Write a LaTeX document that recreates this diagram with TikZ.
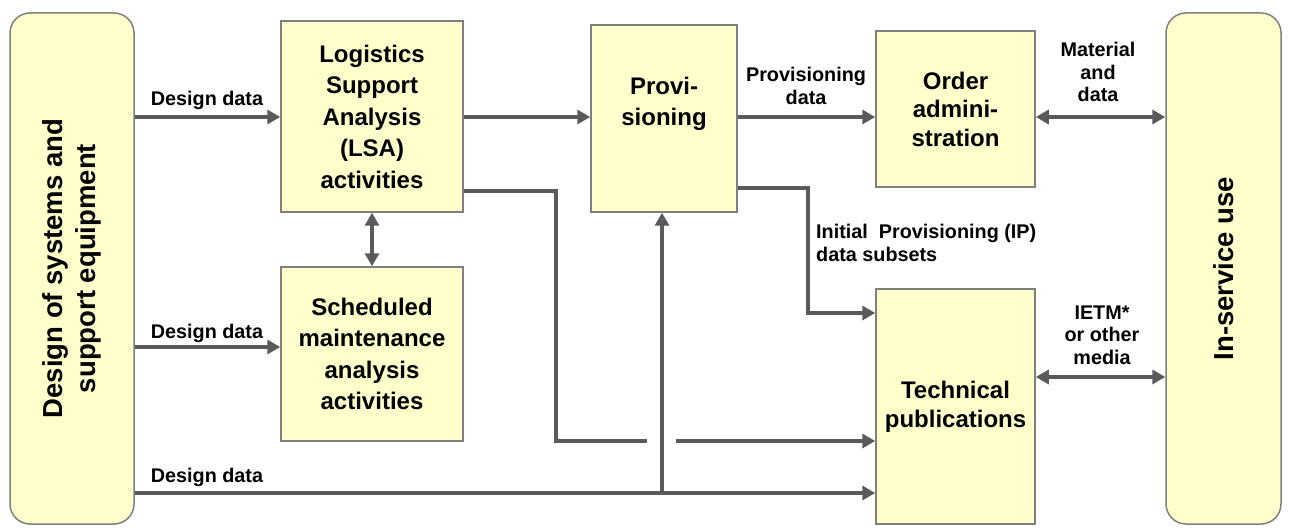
\documentclass[tikz,border=0pt]{standalone}
\usepackage{fontspec}
\setmainfont{Liberation Sans}
\usetikzlibrary{arrows.meta}
\definecolor{boxfill}{HTML}{FFFFCC}
\definecolor{boxline}{HTML}{808080}
\definecolor{flow}{HTML}{5A5A5A}
\begin{document}
\begin{tikzpicture}[x=1pt,y=-1pt,
  box/.style={draw=boxline, line width=1.5pt, fill=boxfill, inner sep=0pt,
    align=center, font=\bfseries\fontsize{24}{31.5}\selectfont},
  side/.style={box, rounded corners=20pt, rotate=90,
    font=\bfseries\fontsize{27.5}{33}\selectfont},
  txt/.style={inner sep=0pt, align=center},
  lbl/.style={inner sep=0pt, align=center, font=\bfseries\fontsize{19.8}{22.5}\selectfont},
  tip/.tip={Triangle[length=13pt,width=14pt]},
  line/.style={draw=flow, line width=4pt},
  arr/.style={line, -tip},
  biarr/.style={line, tip-tip},
]
\useasboundingbox (0,0) rectangle (1289,529);

% outer blocks
\node[side, minimum width=511pt, minimum height=124pt] (design) at (72,268.5)
  {Design of systems and\\support equipment};
\node[side, minimum width=511pt, minimum height=115pt] (inservice) at (1223.5,268.5)
  {In-service use};

% process blocks
\node[box, minimum width=182pt, minimum height=191pt] (lsa) at (372,116.5)
  {Logistics\\Support\\Analysis\\(LSA)\\activities};
\node[box, minimum width=182pt, minimum height=174pt] (sched) at (372,354)
  {Scheduled\\maintenance\\analysis\\activities};
\node[box, minimum width=146pt, minimum height=187pt] (prov) at (664,118.5) {};
\node[txt, font=\bfseries\fontsize{24}{31.5}\selectfont] (provtext) at (664,104)
  {Provi-\\sioning};
\node[box, minimum width=159pt, minimum height=156pt,
  font=\bfseries\fontsize{24}{28.5}\selectfont] (order) at (955.5,109)
  {Order\\admini-\\stration};
\node[box, minimum width=159pt, minimum height=235pt,
  font=\bfseries\fontsize{24}{29}\selectfont] (tech) at (955.5,406.5)
  {Technical\\publications};

% routing points
\coordinate (lsaturn) at (556,441);
\coordinate (gapleft) at (647,441);
\coordinate (gapright) at (676,441);
\coordinate (feed) at (662,493);
\coordinate (ipturn) at (808,313);

% design data inputs
\draw[arr] (design.south |- 0,117) -- (lsa.west |- 0,117);
\draw[arr] (design.south |- 0,347) -- (sched.west |- 0,347);
\draw[arr] (design.south |- 0,493) -- (tech.west |- 0,493);
\draw[arr] (feed) -- (prov.south -| feed);

% analysis outputs
\draw[arr] (lsa.east |- 0,117) -- (prov.west |- 0,117);
\draw[biarr] (lsa.south) -- (sched.north);
\draw[line] (lsa.east |- 0,191) -| (lsaturn) -- (gapleft);
\draw[arr] (gapright) -- (tech.west |- gapright);

% provisioning outputs
\draw[arr] (prov.east |- 0,117) -- (order.west |- 0,117);
\draw[arr] (prov.east |- 0,188) -| (ipturn) -- (tech.west |- ipturn);

% exchanges with in-service use
\draw[biarr] (order.east |- 0,117) -- (inservice.north |- 0,117);
\draw[biarr] (tech.east |- 0,377) -- (inservice.north |- 0,377);

% connector labels
\node[lbl] (dd1) at (207,100) {Design data};
\node[lbl] (dd2) at (207,333) {Design data};
\node[lbl] (dd3) at (207,477) {Design data};
\node[lbl] (provdata) at (806,86) {Provisioning\\data};
\node[lbl] (matdata) at (1098,72) {Material\\and\\data};
\node[lbl, align=left, anchor=west] (ipdata) at (816,243)
  {Initial\ \ Provisioning (IP)\\data subsets};
\node[lbl] (ietm) at (1102,335) {IETM*\\or other\\media};
\end{tikzpicture}
\end{document}
